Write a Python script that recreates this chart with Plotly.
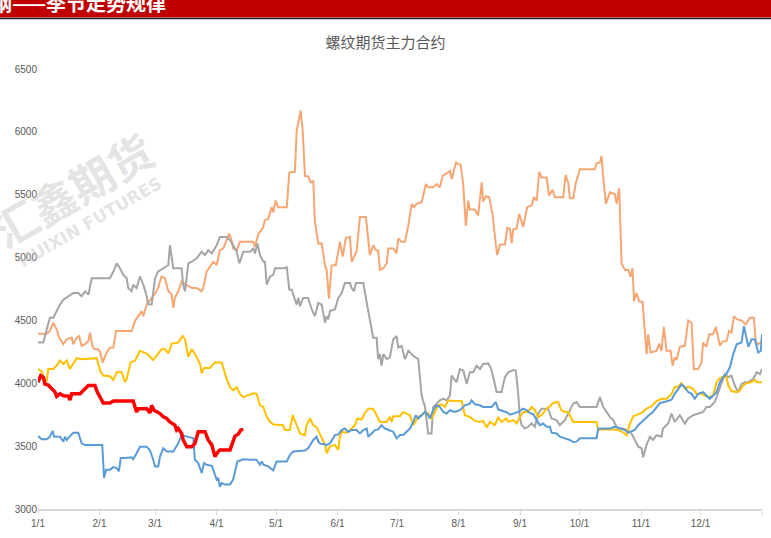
import plotly.graph_objects as go

# x axis: day of year (0 = 1/1)
month_ticks = [0, 31, 59, 90, 120, 151, 181, 212, 243, 273, 304, 334, 365]
month_labels = ["1/1", "2/1", "3/1", "4/1", "5/1", "6/1", "7/1", "8/1",
                "9/1", "10/1", "11/1", "12/1", ""]
y_ticks = [3000, 3500, 4000, 4500, 5000, 5500, 6000, 6500]

orange_day = [0, 4.4, 6, 7.7, 9.4, 10.7, 12.8, 14.5, 17, 17.8, 19.5, 20.7, 22, 23.7, 25.4, 26.2,
              27.6, 28.7, 30.4, 31.3, 32.6, 33.8, 34.6, 36.3, 38, 39.3, 47.2, 48.9, 50.6, 52.3,
              53.1, 54.8, 57.3, 59, 60.6, 62.3, 64, 65.7, 67.4, 68.2, 69, 70.7, 72.4, 75, 77.5,
              80, 82.5, 83.3, 85, 86.7, 88.4, 90.1, 91.7, 93.4, 95.1, 96.4, 97.6, 98.4, 100.2,
              101.8, 108.5, 109.4, 111.1, 113.2, 114.4, 116.1, 117.8, 118.6, 119.8, 121.1, 125.4,
              126.7, 129.5, 130.4, 132.4, 133.4, 134.6, 136.2, 137.6, 138.8, 139.6, 141.3, 143,
              144.7, 145.5, 146.7, 148, 150.2, 152.2, 153.6, 155.2, 157.3, 158.1, 160.6, 162.3,
              165.3, 167.3, 169, 170.4, 171.5, 172.4, 174.1, 175.8, 176.6, 179.1, 180.8, 181.6,
              183.3, 185, 186.7, 188.4, 189.5, 190.9, 193.4, 195.6, 196.7, 199.2, 201, 202.6, 204,
              206, 207.7, 208.5, 210.7, 213.1, 214.4, 215.7, 216.9, 217.7, 220.3, 221.9, 223.7,
              224.4, 225.8, 227.5, 229.2, 230.3, 231.5, 232.9, 235.4, 236.6, 237.9, 238.8, 239.6,
              241.3, 242.6, 244.6, 246.6, 248.8, 250, 251.4, 252.7, 253.9, 256.4, 257.7, 259.4,
              260.6, 264.8, 266, 267.3, 268.1, 269.8, 271.2, 273.2, 280.7, 281.6, 283.3, 284.1,
              284.9, 286.3, 288.3, 290.8, 291.7, 293, 294.2, 295.9, 297.5, 298.7, 299.7, 300.5,
              301.7, 303.1, 304.8, 306, 306.8, 307.6, 308.8, 311.8, 313.2, 314.3, 315.5, 316.9,
              318.9, 319.9, 321, 321.9, 323.6, 326.1, 327.8, 329.5, 330.6, 332.8, 334.5, 335.3,
              337, 338.4, 340.4, 341.7, 343.8, 345.1, 347.1, 348.4, 349.6, 350.8, 352.5, 354.7,
              356.9, 358.9, 360.9, 361.9, 363.1, 364.8]
orange_val = [4395, 4395, 4416, 4482, 4429, 4363, 4311, 4350, 4363, 4311, 4363, 4376, 4298, 4311,
              4337, 4403, 4285, 4271, 4271, 4245, 4166, 4206, 4245, 4285, 4285, 4416, 4416, 4495,
              4534, 4574, 4534, 4626, 4679, 4710, 4760, 4850, 4836, 4732, 4705, 4600, 4679, 4732,
              4810, 4784, 4757, 4757, 4732, 4757, 4889, 4928, 4967, 4941, 5059, 5072, 5138, 5190,
              5138, 5072, 5059, 5125, 5125, 5086, 5190, 5230, 5296, 5309, 5401, 5361, 5453, 5401,
              5401, 5676, 5682, 6005, 6170, 6018, 5650, 5645, 5598, 5611, 5283, 5112, 5112, 4941,
              4902, 4673, 4936, 4941, 5125, 5007, 5157, 5164, 4967, 5046, 5322, 5322, 5020, 5098,
              5059, 5059, 4902, 4915, 4954, 5072, 5072, 5033, 5151, 5125, 5125, 5256, 5427, 5401,
              5427, 5440, 5585, 5559, 5559, 5585, 5559, 5650, 5669, 5690, 5624, 5756, 5735, 5572,
              5252, 5453, 5382, 5382, 5335, 5598, 5446, 5488, 5480, 5340, 5177, 5020, 5104, 5104,
              5236, 5230, 5112, 5225, 5230, 5348, 5243, 5401, 5414, 5480, 5453, 5682, 5637, 5637,
              5493, 5540, 5480, 5480, 5656, 5598, 5472, 5472, 5598, 5703, 5703, 5750, 5756, 5808,
              5650, 5427, 5520, 5506, 5427, 5550, 4954, 4902, 4902, 4850, 4915, 4652, 4718, 4652,
              4647, 4363, 4232, 4390, 4245, 4258, 4316, 4258, 4448, 4258, 4258, 4140, 4206, 4185,
              4290, 4298, 4500, 4482, 4113, 4113, 4166, 4324, 4290, 4390, 4390, 4448, 4298, 4332,
              4337, 4416, 4403, 4534, 4508, 4500, 4468, 4521, 4521, 4324, 4311, 4332]

gray_day = [0, 2.7, 4.4, 6, 7.7, 9.4, 11.1, 12.8, 17.8, 20.3, 22, 23.7, 25.4, 27.1, 36.3, 38,
            39.7, 41.3, 43, 44.7, 45.5, 47.2, 48, 49.7, 51.4, 53.1, 54.8, 55.4, 57.3, 59, 60.6,
            63.2, 65.7, 66.5, 68.2, 72.4, 73.2, 74.1, 75.8, 77.5, 80, 82.5, 84.2, 85.8, 87.6,
            90.1, 91.7, 95.1, 96.8, 98.4, 100.2, 101.5, 102.2, 103.5, 106.9, 108.5, 109.4, 110.6,
            111.9, 113.6, 114.4, 115.3, 117, 118.6, 119.5, 124.5, 125.4, 126.7, 127.9, 128.7,
            130.4, 131.2, 132.1, 133.7, 136.2, 138, 139.6, 141.3, 143, 144.7, 145.5, 146.3, 147.2,
            149.7, 151.4, 153.1, 154.7, 157.3, 158.1, 159.3, 160.3, 164, 165.7, 166.5, 167.3, 169,
            170.7, 171.5, 172.4, 173.2, 174.1, 175.8, 177.4, 179.1, 180.8, 181.6, 183.3, 185,
            186.7, 189.2, 191.7, 193.4, 195.1, 195.9, 196.7, 198.4, 199.2, 201, 202.6, 204.3, 206,
            207.7, 208.5, 209.7, 211, 212.7, 214.4, 216.1, 217.7, 219.4, 221.1, 222.8, 224.4, 227,
            228.2, 229.5, 231.2, 233.7, 235.4, 237, 237.9, 239.6, 240.9, 242.1, 242.9, 243.8,
            245.5, 247.1, 248.8, 250.5, 252.2, 253.9, 257.2, 258.9, 261.4, 263.1, 265.6, 268.1,
            269.8, 271.5, 273.2, 281.6, 283.3, 284.9, 286.6, 288.3, 290, 291.7, 293.3, 295, 296.7,
            299.2, 300.9, 302.6, 304.3, 305.1, 306.8, 308.5, 310.1, 311.8, 314.3, 315.1, 317.7,
            319.4, 321, 323.6, 326.1, 327.8, 330.3, 332.8, 335.3, 337, 338.7, 341.2, 342.9, 344.6,
            346.3, 348, 349.6, 351.3, 353, 354.7, 356.4, 358.1, 360.6, 362.3, 364, 365]
gray_val = [4324, 4324, 4429, 4521, 4521, 4574, 4626, 4665, 4718, 4718, 4692, 4732, 4705, 4836,
            4836, 4889, 4954, 4915, 4862, 4836, 4757, 4732, 4784, 4757, 4850, 4784, 4692, 4630,
            4626, 4836, 4889, 4915, 4941, 5098, 4915, 4915, 4784, 4732, 4954, 4967, 4994, 5046,
            5020, 5059, 5033, 5098, 5164, 5164, 5138, 5098, 5046, 4954, 4994, 5046, 5046, 5072,
            5033, 5112, 5020, 4967, 4967, 4784, 4850, 4862, 4915, 4915, 4928, 4744, 4744, 4705,
            4626, 4679, 4613, 4679, 4679, 4587, 4534, 4639, 4626, 4482, 4534, 4508, 4574, 4587,
            4679, 4718, 4797, 4797, 4757, 4732, 4797, 4797, 4665, 4574, 4508, 4363, 4363, 4192,
            4232, 4140, 4232, 4192, 4206, 4350, 4376, 4285, 4298, 4192, 4258, 4219, 4192, 3903,
            3812, 3693, 3601, 3601, 3812, 3838, 3865, 3877, 3865, 3903, 4061, 4035, 4009, 4113,
            4101, 3995, 4088, 4088, 4140, 4113, 4153, 4158, 4127, 4048, 3930, 3930, 4048, 4088,
            4095, 4106, 4101, 3916, 3733, 3667, 3640, 3654, 3680, 3654, 3759, 3798, 3798, 3720,
            3707, 3667, 3707, 3786, 3838, 3851, 3812, 3812, 3890, 3812, 3772, 3733, 3707, 3654,
            3640, 3640, 3628, 3601, 3549, 3496, 3483, 3412, 3510, 3575, 3549, 3588, 3575, 3640,
            3680, 3759, 3693, 3746, 3680, 3720, 3746, 3759, 3772, 3812, 3812, 3851, 3930, 3995,
            4074, 4048, 4061, 3982, 3930, 3995, 4009, 4009, 4035, 4088, 4074, 4113]

yellow_day = [0, 1.9, 3.5, 4.3, 5.2, 7.7, 9.4, 11.1, 12.8, 14.5, 16.1, 17.8, 19.5, 22, 29.6, 31.3,
              32.9, 36.3, 38, 39.7, 42.2, 43.9, 44.7, 46.7, 48.9, 51.4, 54.8, 58.1, 60.6, 62.3,
              64, 65.7, 67.4, 70.7, 72.9, 74.1, 75.8, 77.5, 79.1, 81.7, 82.5, 83.7, 86.7, 89.2,
              92.6, 95.1, 96.8, 98.4, 100.2, 101.8, 103.5, 108.5, 110.2, 111.9, 113.6, 115.3, 117,
              118.6, 123.6, 124.5, 127, 128.4, 130.4, 132.1, 134.6, 135.4, 137.1, 138.8, 140.5,
              143, 144.7, 145.5, 147.2, 149.7, 151.4, 152.2, 153.1, 155.6, 157.3, 159.8, 161,
              163.2, 164.8, 166.5, 169, 170.7, 172.4, 175.8, 177.4, 178.3, 179.1, 182.5, 184.1,
              185.8, 187.5, 189.2, 191.7, 193.4, 195.1, 196.7, 198.4, 200.1, 201.8, 203.5, 205.1,
              206.8, 209.3, 213.6, 215.2, 217.7, 220.3, 222.8, 224.4, 226.2, 227.8, 230.3, 232,
              233.7, 236.2, 237, 239.6, 241.3, 242.9, 244.6, 247.1, 248.8, 250.5, 252.2, 253.9,
              256.4, 258.1, 259.7, 262.2, 263.1, 263.9, 265.6, 267.3, 269.8, 281.6, 282.4, 284.1,
              290, 292.5, 294.2, 295.9, 296.7, 298.4, 300.1, 302.6, 304.3, 306.8, 309.3, 311.8,
              314.3, 316.9, 319.4, 321, 322.7, 324.4, 326.1, 327.8, 330.3, 332, 334.5, 337.9,
              340.4, 342.1, 343.8, 345.4, 346.8, 348, 349.6, 352.2, 353.8, 355.5, 357.2, 359.7,
              361.4, 362.3, 365]
yellow_val = [4113, 4095, 4022, 4010, 4113, 4113, 4140, 4180, 4153, 4180, 4113, 4153, 4200, 4192,
              4200, 4101, 4061, 4056, 4027, 4088, 4088, 4009, 4035, 4166, 4180, 4258, 4237, 4185,
              4232, 4271, 4271, 4237, 4316, 4324, 4376, 4350, 4211, 4271, 4232, 4153, 4080, 4122,
              4122, 4166, 4166, 4035, 3969, 3943, 3969, 3916, 3890, 3920, 3916, 3825, 3812, 3733,
              3693, 3672, 3667, 3628, 3628, 3746, 3667, 3601, 3588, 3667, 3720, 3667, 3649, 3562,
              3510, 3444, 3496, 3510, 3470, 3575, 3615, 3607, 3628, 3667, 3720, 3712, 3764, 3798,
              3798, 3746, 3693, 3693, 3733, 3693, 3738, 3738, 3772, 3759, 3746, 3667, 3733, 3746,
              3772, 3759, 3720, 3772, 3825, 3833, 3812, 3865, 3859, 3859, 3746, 3733, 3701, 3693,
              3701, 3649, 3693, 3667, 3728, 3693, 3720, 3693, 3707, 3680, 3733, 3772, 3772, 3812,
              3786, 3733, 3746, 3798, 3817, 3843, 3851, 3812, 3786, 3772, 3772, 3693, 3693, 3628,
              3633, 3633, 3628, 3615, 3601, 3580, 3680, 3738, 3754, 3764, 3798, 3817, 3859, 3877,
              3877, 3916, 3969, 3974, 4001, 3956, 3974, 3956, 3916, 3916, 3890, 3903, 4009, 4043,
              4048, 4061, 3982, 3938, 3930, 3943, 3982, 4001, 4009, 4027, 4009, 4009]

blue_day = [0, 1.9, 4.4, 6, 7.4, 8.2, 11.1, 11.9, 12.8, 13.6, 14.5, 16.1, 17.8, 20.3, 22, 23.7,
            32.4, 33.3, 34.3, 36.3, 38, 39.7, 40.8, 41.7, 43.9, 47.2, 48, 49.7, 51.4, 54.8, 56.5,
            58.1, 59, 60.6, 61.5, 63.2, 64.9, 68.2, 70.7, 72.4, 75, 78.3, 79.1, 80.8, 82.5, 83.7,
            85, 87.6, 89.2, 90.1, 90.9, 91.7, 92.6, 94.3, 96.8, 98.4, 100.5, 103.5, 106.9, 110.2,
            111.9, 112.8, 113.6, 116.1, 118.6, 120.3, 125.4, 127, 128.7, 134.6, 136.2, 138,
            138.8, 140.5, 141.3, 142.1, 145.5, 147.2, 149.7, 151.4, 153.1, 154.7, 156.4, 158.1,
            160.6, 162.3, 164, 165.7, 166.5, 168.2, 169.9, 171.5, 173.2, 174.9, 177.4, 179.1,
            180.8, 182.5, 184.1, 185.8, 187.5, 189.2, 190.5, 191.7, 193.4, 195.1, 196.7, 197.6,
            199.2, 201, 202.6, 204.3, 206, 207.7, 210.2, 212.7, 215.2, 217.7, 218.6, 220.3,
            222.8, 224.4, 228.7, 230.8, 232, 236.2, 238, 239.6, 242.1, 244.6, 246.3, 248, 249.7,
            251.4, 253, 254.7, 256.4, 258.1, 258.9, 261.4, 263.1, 265.6, 268.1, 269.8, 271.5,
            273.2, 281.6, 282.4, 288.3, 290.8, 293.3, 295.9, 297.5, 299.2, 300.9, 302.6, 305.1,
            306.8, 308.5, 310.1, 311.8, 313.5, 316, 317.7, 319.4, 321, 322.7, 324.4, 326.1,
            327.8, 329.5, 331.1, 332.8, 335.3, 337, 338.7, 340.4, 342.1, 343.8, 345.4, 347.1,
            348.8, 350.5, 352.2, 354.7, 355.9, 358.1, 359.8, 361.4, 363.1, 364.4, 365]
blue_val = [3580, 3554, 3554, 3575, 3622, 3575, 3575, 3554, 3536, 3575, 3549, 3580, 3607, 3607,
            3522, 3510, 3510, 3247, 3313, 3313, 3333, 3325, 3300, 3405, 3405, 3412, 3396, 3444,
            3496, 3496, 3465, 3392, 3339, 3339, 3418, 3483, 3457, 3457, 3522, 3588, 3575, 3562,
            3392, 3365, 3286, 3365, 3352, 3344, 3273, 3234, 3247, 3176, 3207, 3194, 3194, 3234,
            3378, 3396, 3392, 3392, 3352, 3378, 3352, 3339, 3307, 3378, 3378, 3431, 3457, 3465,
            3483, 3522, 3549, 3575, 3536, 3522, 3510, 3522, 3588, 3593, 3628, 3640, 3615, 3628,
            3628, 3601, 3628, 3640, 3575, 3601, 3628, 3633, 3667, 3640, 3628, 3615, 3562, 3588,
            3588, 3615, 3640, 3693, 3746, 3720, 3746, 3772, 3746, 3720, 3786, 3825, 3812, 3772,
            3759, 3786, 3772, 3786, 3825, 3838, 3865, 3833, 3825, 3812, 3812, 3851, 3791, 3770,
            3750, 3759, 3772, 3798, 3786, 3764, 3754, 3707, 3667, 3680, 3654, 3654, 3607, 3601,
            3575, 3562, 3549, 3533, 3536, 3562, 3562, 3640, 3640, 3654, 3640, 3628, 3607, 3615,
            3628, 3667, 3707, 3733, 3754, 3772, 3806, 3843, 3851, 3859, 3869, 3916, 3956, 3990,
            3969, 3930, 3916, 3877, 3916, 3930, 3903, 3877, 3903, 3930, 4009, 4048, 4074, 4127,
            4232, 4310, 4324, 4455, 4290, 4350, 4350, 4245, 4258, 4390]

red_day = [0, 1.4, 2.7, 3.5, 5.2, 6.9, 8.6, 9.4, 11.1, 12.8, 15.3, 16.1, 17, 21.2, 23.7, 25.4,
           28.7, 29.9, 31.3, 32.9, 36.3, 38, 48, 49.7, 50.6, 54.8, 56.5, 57.3, 58.5, 61.5, 63.2,
           64.9, 66.5, 69, 69.9, 70.7, 72.4, 73.2, 75, 77.5, 79.1, 80.8, 84.2, 85.8, 87.6, 89.2,
           90.9, 91.7, 96.8, 98.4, 99.3, 101, 102.2, 103.5]
red_val = [4008, 4061, 4048, 3993, 3985, 3956, 3930, 3896, 3916, 3900, 3898, 3866, 3916, 3916,
           3956, 3982, 3982, 3930, 3890, 3843, 3843, 3859, 3859, 3772, 3798, 3798, 3764, 3825,
           3786, 3759, 3733, 3720, 3693, 3667, 3628, 3640, 3601, 3549, 3496, 3496, 3522, 3615,
           3615, 3549, 3510, 3418, 3457, 3470, 3470, 3543, 3580, 3596, 3628, 3633]

series = [
    (orange_day, orange_val, "#F5A673", 2),
    (gray_day, gray_val, "#A5A5A5", 2),
    (yellow_day, yellow_val, "#FFC000", 2),
    (blue_day, blue_val, "#5B9BD5", 2),
    (red_day, red_val, "#FF0000", 3.5),
]

# plot area in page pixels: x 38..762, y 69..513
L, R, T, B = 38, 762, 69, 513


def px_x(p):
    return (p - L) / (R - L)


def px_y(p):
    return (B - p) / (B - T)


fig = go.Figure()

for days, vals, color, width in series:
    fig.add_trace(go.Scatter(
        x=days, y=vals, mode="lines",
        line=dict(color=color, width=width),
        showlegend=False, hoverinfo="skip",
    ))

# red banner at the top with a dark rule under it
fig.add_shape(type="rect", xref="paper", yref="paper",
              x0=px_x(-5), x1=px_x(780), y0=px_y(17), y1=px_y(-5),
              fillcolor="#C00000", line_width=0, layer="above")
fig.add_shape(type="line", xref="paper", yref="paper",
              x0=px_x(-5), x1=px_x(780), y0=px_y(18), y1=px_y(18),
              line=dict(color="#222222", width=1.5), layer="above")
fig.add_annotation(text="<b>螺纹钢——季节走势规律</b>", xref="paper", yref="paper",
                   x=px_x(-50), y=px_y(2), xanchor="left", yanchor="middle",
                   showarrow=False,
                   font=dict(family="Noto Sans CJK SC", size=20, color="white"))

# watermark
fig.add_annotation(text="<b>汇鑫期货</b>", xref="paper", yref="paper",
                   x=px_x(72), y=px_y(190), xanchor="center", yanchor="middle",
                   showarrow=False, textangle=-30,
                   font=dict(family="Noto Sans CJK SC", size=44, color="rgba(195,195,195,0.45)"))
fig.add_annotation(text="<b>HUIXIN FUTURES</b>", xref="paper", yref="paper",
                   x=px_x(90), y=px_y(223), xanchor="center", yanchor="middle",
                   showarrow=False, textangle=-30,
                   font=dict(family="DejaVu Sans", size=17, color="rgba(195,195,195,0.45)"))

fig.update_layout(
    width=771, height=538,
    margin=dict(l=L, r=771 - R, t=T, b=538 - B),
    paper_bgcolor="white", plot_bgcolor="white",
    title=dict(text="螺纹期货主力合约", x=0.5, xref="container", xanchor="center",
               y=1 - 43 / 538, yanchor="middle",
               font=dict(family="Noto Sans CJK SC", size=15, color="#595959")),
    xaxis=dict(range=[0, 365], tickvals=month_ticks, ticktext=month_labels,
               showgrid=False, zeroline=False, showline=True,
               linecolor="#D9D9D9", linewidth=1.5,
               ticks="outside", ticklen=4, tickcolor="#D9D9D9",
               tickfont=dict(family="Liberation Sans", size=10, color="#595959")),
    yaxis=dict(range=[3000, 6500], tickvals=y_ticks,
               showgrid=False, zeroline=False, showline=False, ticks="",
               tickfont=dict(family="Liberation Sans", size=10, color="#595959")),
)

# drop the browser's default body margin so the figure sits at the page corner
fig.write_html("out.html", config={"displayModeBar": False},
               post_script="document.body.style.margin='0px';")
